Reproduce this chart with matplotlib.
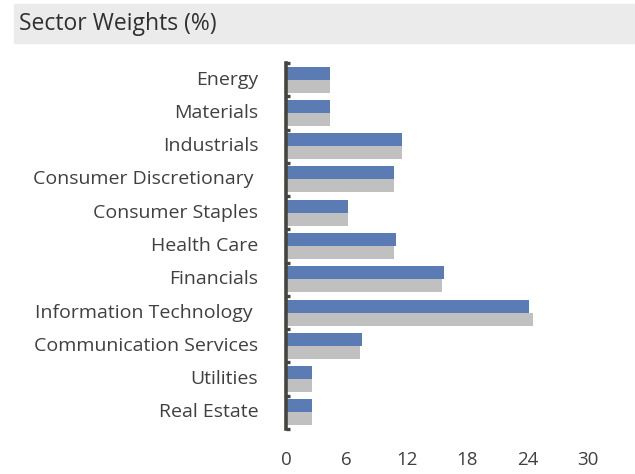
import numpy as np
import matplotlib
matplotlib.use('Agg')
import matplotlib.pyplot as plt
from matplotlib.patches import Rectangle

plt.rcParams['font.family'] = ['Open Sans', 'DejaVu Sans']

sectors = ['Energy', 'Materials', 'Industrials', 'Consumer Discretionary ',
           'Consumer Staples', 'Health Care', 'Financials',
           'Information Technology ', 'Communication Services', 'Utilities',
           'Real Estate']
fund = [4.4, 4.4, 11.5, 10.7, 6.2, 10.9, 15.7, 24.2, 7.6, 2.6, 2.6]
benchmark = [4.4, 4.4, 11.5, 10.7, 6.2, 10.7, 15.5, 24.6, 7.4, 2.6, 2.6]
xticks = [0, 6, 12, 18, 24, 30]

text_col = '#404040'
W, H = 635, 474
fig = plt.figure(figsize=(W / 100, H / 100), dpi=100)

# header band with title
fig.patches.append(Rectangle((14 / W, 1 - 43 / H), 1 - 14 / W, 39 / H,
                             transform=fig.transFigure, color='#ebebeb',
                             zorder=0))
fig.text(19 / W, 1 - 24 / H, 'Sector Weights (%)', fontsize=16.5,
         color='#303030', va='center', ha='left')

ax = fig.add_axes([286 / W, 1 - 429 / H, (623 - 286) / W, (429 - 63) / H])

y = np.arange(len(sectors))
h = 0.39
ax.barh(y - h / 2, fund, height=h, color='#5b7bb5', zorder=2)
ax.barh(y + h / 2, benchmark, height=h, color='#c0c0c0', zorder=2)

ax.set_ylim(len(sectors) - 0.5, -0.5)
ax.set_xlim(0, 33.5)
ax.set_yticks(y)
ax.set_yticklabels(sectors)
ax.set_xticks(xticks)

for s in ['top', 'right', 'bottom']:
    ax.spines[s].set_visible(False)
ax.spines['left'].set_linewidth(2.6)
ax.spines['left'].set_color('#45453f')
ax.spines['left'].set_zorder(3)

ax.tick_params(axis='y', length=0, pad=20, labelsize=14, labelcolor=text_col)
ax.tick_params(axis='x', length=0, pad=16, labelsize=13.5, labelcolor=text_col)
for lbl in ax.get_yticklabels():
    lbl.set_va('center')
ax.set_yticks(np.arange(len(sectors) + 1) - 0.5, minor=True)
ax.tick_params(axis='y', which='minor', direction='in', length=3, width=2.4,
               color='#45453f')

plt.savefig('out.png', dpi=100)
